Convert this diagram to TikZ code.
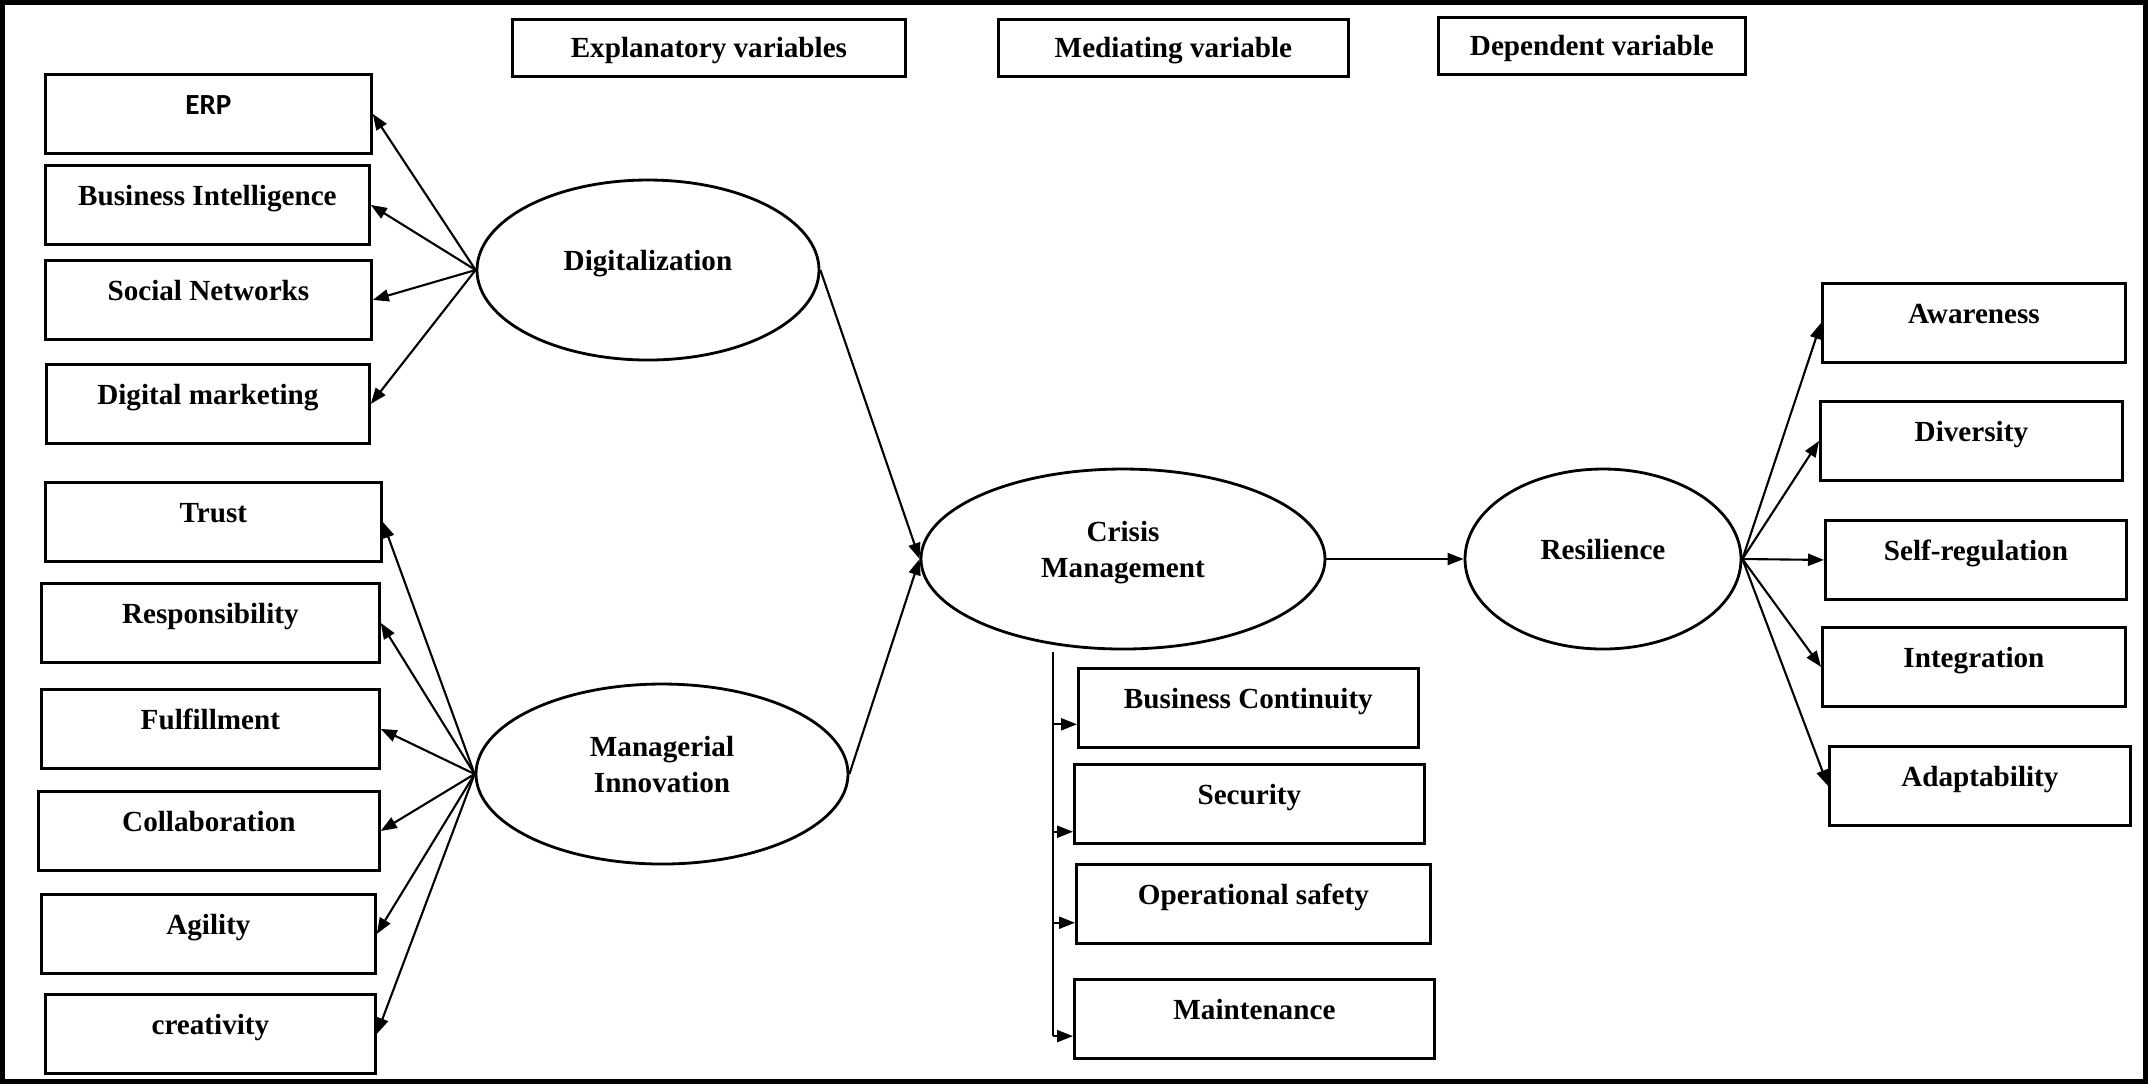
\documentclass[tikz,border=0pt]{standalone}
\usepackage{fontspec}
\setmainfont{Liberation Serif}
\newfontfamily\erpfont{Carlito}
\usetikzlibrary{calc}
\usetikzlibrary{positioning}
\usetikzlibrary{shapes}
\usetikzlibrary{arrows.meta}

\tikzset{
  varbox/.style={draw, rectangle, anchor=north west, inner xsep=2pt, inner ysep=0pt,
    text height=0.40cm, text depth=0.39cm, font=\fontsize{8.3}{10.3}\selectfont\bfseries},
  headbox/.style={draw, rectangle, anchor=north west, inner ysep=0pt,
    text height=0.38cm, text depth=0.19cm, font=\fontsize{8.3}{10.3}\selectfont\bfseries},
  latent/.style={draw, ellipse, inner sep=0pt, minimum height=1.8cm, align=center,
    text depth=0.2cm, font=\fontsize{8.3}{10.3}\selectfont\bfseries},
  arr/.style={semithick, -{Triangle[length=0.16cm, width=0.12cm]}},
}

\begin{document}
\begin{tikzpicture}[thick]

\useasboundingbox (0,0) rectangle (21.48,-10.84);

% --- Frame ---
\draw[line width=0.05cm] (0.025,-0.025) rectangle (21.455,-10.815);

% --- Headers ---
\node[headbox, minimum width=3.93cm] (expl) at (5.11,-0.18) {Explanatory variables};
\node[headbox, minimum width=3.50cm] (med) at (9.97,-0.18) {Mediating variable};
\node[headbox, minimum width=3.07cm] (dep) at (14.37,-0.16) {Dependent variable};

% --- Digitalization ---
\node[latent, minimum width=3.42cm] (dig) at (6.48,-2.70) {Digitalization};

\node[varbox, minimum width=3.26cm] (erp) at (0.44,-0.73) {\erpfont ERP};
\node[varbox, minimum width=3.24cm] (bi) at (0.44,-1.64) {Business Intelligence};
\node[varbox, minimum width=3.26cm] (sn) at (0.44,-2.59) {Social Networks};
\node[varbox, minimum width=3.23cm] (dm) at (0.45,-3.63) {Digital marketing};

% --- Managerial innovation ---
\node[latent, minimum width=3.72cm] (mi) at (6.62,-7.74) {Managerial\\Innovation};

\node[varbox, minimum width=3.36cm] (trust) at (0.44,-4.81) {Trust};
\node[varbox, minimum width=3.38cm] (resp) at (0.40,-5.82) {Responsibility};
\node[varbox, minimum width=3.38cm] (fulf) at (0.40,-6.88) {Fulfillment};
\node[varbox, minimum width=3.41cm] (collab) at (0.37,-7.90) {Collaboration};
\node[varbox, minimum width=3.34cm] (agil) at (0.40,-8.93) {Agility};
\node[varbox, minimum width=3.30cm] (creat) at (0.44,-9.93) {creativity};

% --- Crisis management ---
\node[latent, minimum width=4.04cm] (cm) at (11.23,-5.59) {Crisis\\Management};

\node[varbox, minimum width=3.40cm] (bc) at (10.77,-6.67) {Business Continuity};
\node[varbox, minimum width=3.50cm] (sec) at (10.73,-7.63) {Security};
\node[varbox, minimum width=3.54cm] (ops) at (10.75,-8.63) {Operational safety};
\node[varbox, minimum width=3.60cm] (mnt) at (10.73,-9.78) {Maintenance};

% --- Resilience ---
\node[latent, minimum width=2.76cm] (res) at (16.03,-5.59) {Resilience};

\node[varbox, minimum width=3.03cm] (aw) at (18.21,-2.82) {Awareness};
\node[varbox, minimum width=3.02cm] (div) at (18.19,-4.00) {Diversity};
\node[varbox, minimum width=3.01cm] (selfr) at (18.24,-5.19) {Self-regulation};
\node[varbox, minimum width=3.03cm] (integ) at (18.21,-6.26) {Integration};
\node[varbox, minimum width=3.01cm] (adapt) at (18.28,-7.45) {Adaptability};

% --- Links ---
\foreach \v in {erp,bi,sn,dm} \draw[arr] (dig.west) -- (\v.east);
\foreach \v in {trust,resp,fulf,collab,agil,creat} \draw[arr] (mi.west) -- (\v.east);
\foreach \v in {aw,div,selfr,integ,adapt} \draw[arr] (res.east) -- (\v.west);

\draw[arr] (dig.east) -- (cm.west);
\draw[arr] (mi.east) -- (cm.west);
\draw[arr] (cm.east) -- (res.west);

% draw crisis branches
\coordinate (cmstem) at ($(cm.south)+(-0.70,-0.02)$);
\coordinate (bcin) at ($(bc.north west)!0.70!(bc.south west)$);
\coordinate (secin) at ($(sec.north west)!0.84!(sec.south west)$);
\coordinate (opsin) at ($(ops.north west)!0.73!(ops.south west)$);
\coordinate (mntin) at ($(mnt.north west)!0.71!(mnt.south west)$);

\draw[semithick] (cmstem) -- (cmstem |- mntin);
\foreach \p in {bcin,secin,opsin,mntin} \draw[arr] (cmstem |- \p) -- (\p);

\end{tikzpicture}
\end{document}
